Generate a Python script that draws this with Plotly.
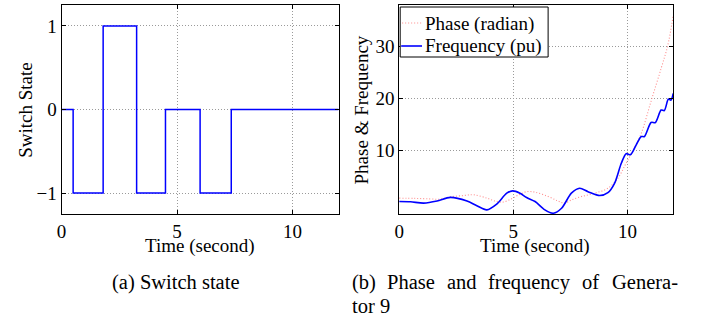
import plotly.graph_objects as go

# ---- data ----
t_switch = [0, 0.5, 1.8, 3.25, 4.5, 6.0, 7.35, 12]
switch_state = [0, -1, 1, -1, 0, -1, 0, 0]

t_freq = [0, 0.5, 1.07, 1.66, 2.24, 2.97, 3.4, 3.84, 4.27, 4.71, 4.97, 5.29, 5.58,
          5.95, 6.38, 6.75, 7.11, 7.54, 7.9, 8.27, 8.78, 9.14, 9.43, 9.73, 9.94,
          10.13, 10.38, 10.6, 10.74, 11.03, 11.22, 11.47, 11.61, 11.79, 11.9, 12.0]
freq = [0.2, 0.15, -0.1, 0.3, 1.0, 0.3, -0.6, -1.4, -0.3, 1.8, 2.25, 1.8, 0.96,
        0.2, -1.4, -2.05, -1.1, 1.8, 2.75, 2.1, 1.35, 1.9, 3.7, 7.6, 9.4,
        9.2, 11.1, 12.7, 12.7, 15.4, 15.4, 17.8, 17.7, 19.9, 19.7, 21.0]

t_phase = [0, 0.7, 1.37, 1.8, 2.24, 2.82, 3.26, 3.84, 4.27, 4.56, 4.93, 5.29, 5.58,
           5.95, 6.53, 6.96, 7.25, 7.54, 7.98, 8.56, 9.14, 9.58, 9.94, 10.3, 10.6,
           11.03, 11.47, 11.76, 12.0]
phase = [0.85, 0.8, 0.7, 0.65, 1.1, 1.35, 1.5, 0.85, 0.2, 0.1, 0.75, 1.6, 2.1,
         2.0, 1.15, 0.3, -0.1, 0.5, 1.15, 1.8, 2.75, 4.7, 7.6, 10.5, 13.3,
         19.5, 25.8, 30.2, 36.0]

x_ticks = [0, 5, 10]
y1_ticks = [-1, 0, 1]
y2_ticks = [10, 20, 30]
legend_labels = ["Phase (radian)", "Frequency (pu)"]

W, H = 704, 320
FONT = "Liberation Serif, Times New Roman, DejaVu Serif, serif"
BLUE = "#0000ff"
RED = "#ff8c8c"


def px(x):
    return x / W


def py(y):
    return 1 - y / H


fig = go.Figure()
fig.add_trace(go.Scatter(x=t_switch, y=switch_state, mode="lines",
                         line=dict(color=BLUE, width=1.5, shape="hv"),
                         xaxis="x", yaxis="y", showlegend=False))
fig.add_trace(go.Scatter(x=t_phase, y=phase, mode="lines", name=legend_labels[0],
                         line=dict(color=RED, width=1.1, dash="1px,2px", shape="spline"),
                         xaxis="x2", yaxis="y2", showlegend=False))
fig.add_trace(go.Scatter(x=t_freq, y=freq, mode="lines", name=legend_labels[1],
                         line=dict(color=BLUE, width=1.6, shape="spline", smoothing=0.8),
                         xaxis="x2", yaxis="y2", showlegend=False))

axis_common = dict(showline=True, linecolor="black", linewidth=1, mirror="ticks",
                   ticks="inside", ticklen=4, tickcolor="black",
                   showgrid=True, gridcolor="#9a9a9a", griddash="1px,2px", gridwidth=1,
                   zeroline=False, tickfont=dict(family=FONT, size=19, color="black"))

ydom = [py(214), py(5)]
fig.update_layout(
    width=W, height=H, margin=dict(l=0, r=0, t=0, b=0),
    paper_bgcolor="white", plot_bgcolor="white",
    font=dict(family=FONT, size=19, color="black"),
    xaxis=dict(domain=[px(57), px(336)], range=[0, 12], tickvals=x_ticks, anchor="y", **axis_common),
    yaxis=dict(domain=ydom, range=[-1.25, 1.25], tickvals=y1_ticks, anchor="x", **axis_common),
    xaxis2=dict(domain=[px(397), px(673)], range=[0, 12], tickvals=x_ticks, anchor="y2", **axis_common),
    yaxis2=dict(domain=ydom, range=[-2.2, 38], tickvals=y2_ticks, anchor="x2", **axis_common),
    showlegend=False,
)

# legend box (drawn in pixel-derived paper coordinates)
shapes = [
    dict(type="rect", xref="paper", yref="paper", x0=px(398), x1=px(547), y0=py(57), y1=py(7),
         line=dict(color="black", width=1), fillcolor="white", layer="above"),
    dict(type="line", xref="paper", yref="paper", x0=px(400), x1=px(420), y0=py(23), y1=py(23),
         line=dict(color=RED, width=1.1, dash="1px,2px"), layer="above"),
    dict(type="line", xref="paper", yref="paper", x0=px(399), x1=px(420), y0=py(46), y1=py(46),
         line=dict(color=BLUE, width=1.6), layer="above"),
]
fig.update_layout(shapes=shapes)

ann = []
def text(t, x, y, size=19, xanchor="center", yanchor="middle", angle=0):
    ann.append(dict(text=t, x=px(x), y=py(y), xref="paper", yref="paper",
                    xanchor=xanchor, yanchor=yanchor, showarrow=False, textangle=angle,
                    font=dict(family=FONT, size=size, color="black")))

text(legend_labels[0], 421, 24, xanchor="left")
text(legend_labels[1], 421, 46, xanchor="left")
text("Time (second)", 196, 246)
text("Time (second)", 534, 246)
text("Switch State", 20, 110, angle=-90)
text("Phase &amp; Frequency", 359, 110, angle=-90)
text("(a) Switch state", 172, 282, size=20.5)
for w, x in [("(b)", 347), ("Phase", 383), ("and", 443), ("frequency", 484), ("of", 579), ("Genera-", 609)]:
    text(w, x, 282, size=20.5, xanchor="left")
text("tor 9", 347, 306, size=20.5, xanchor="left")
fig.update_layout(annotations=ann)

fig.write_html("out.html", post_script="document.body.style.margin='0';",
               config={"displayModeBar": False})
